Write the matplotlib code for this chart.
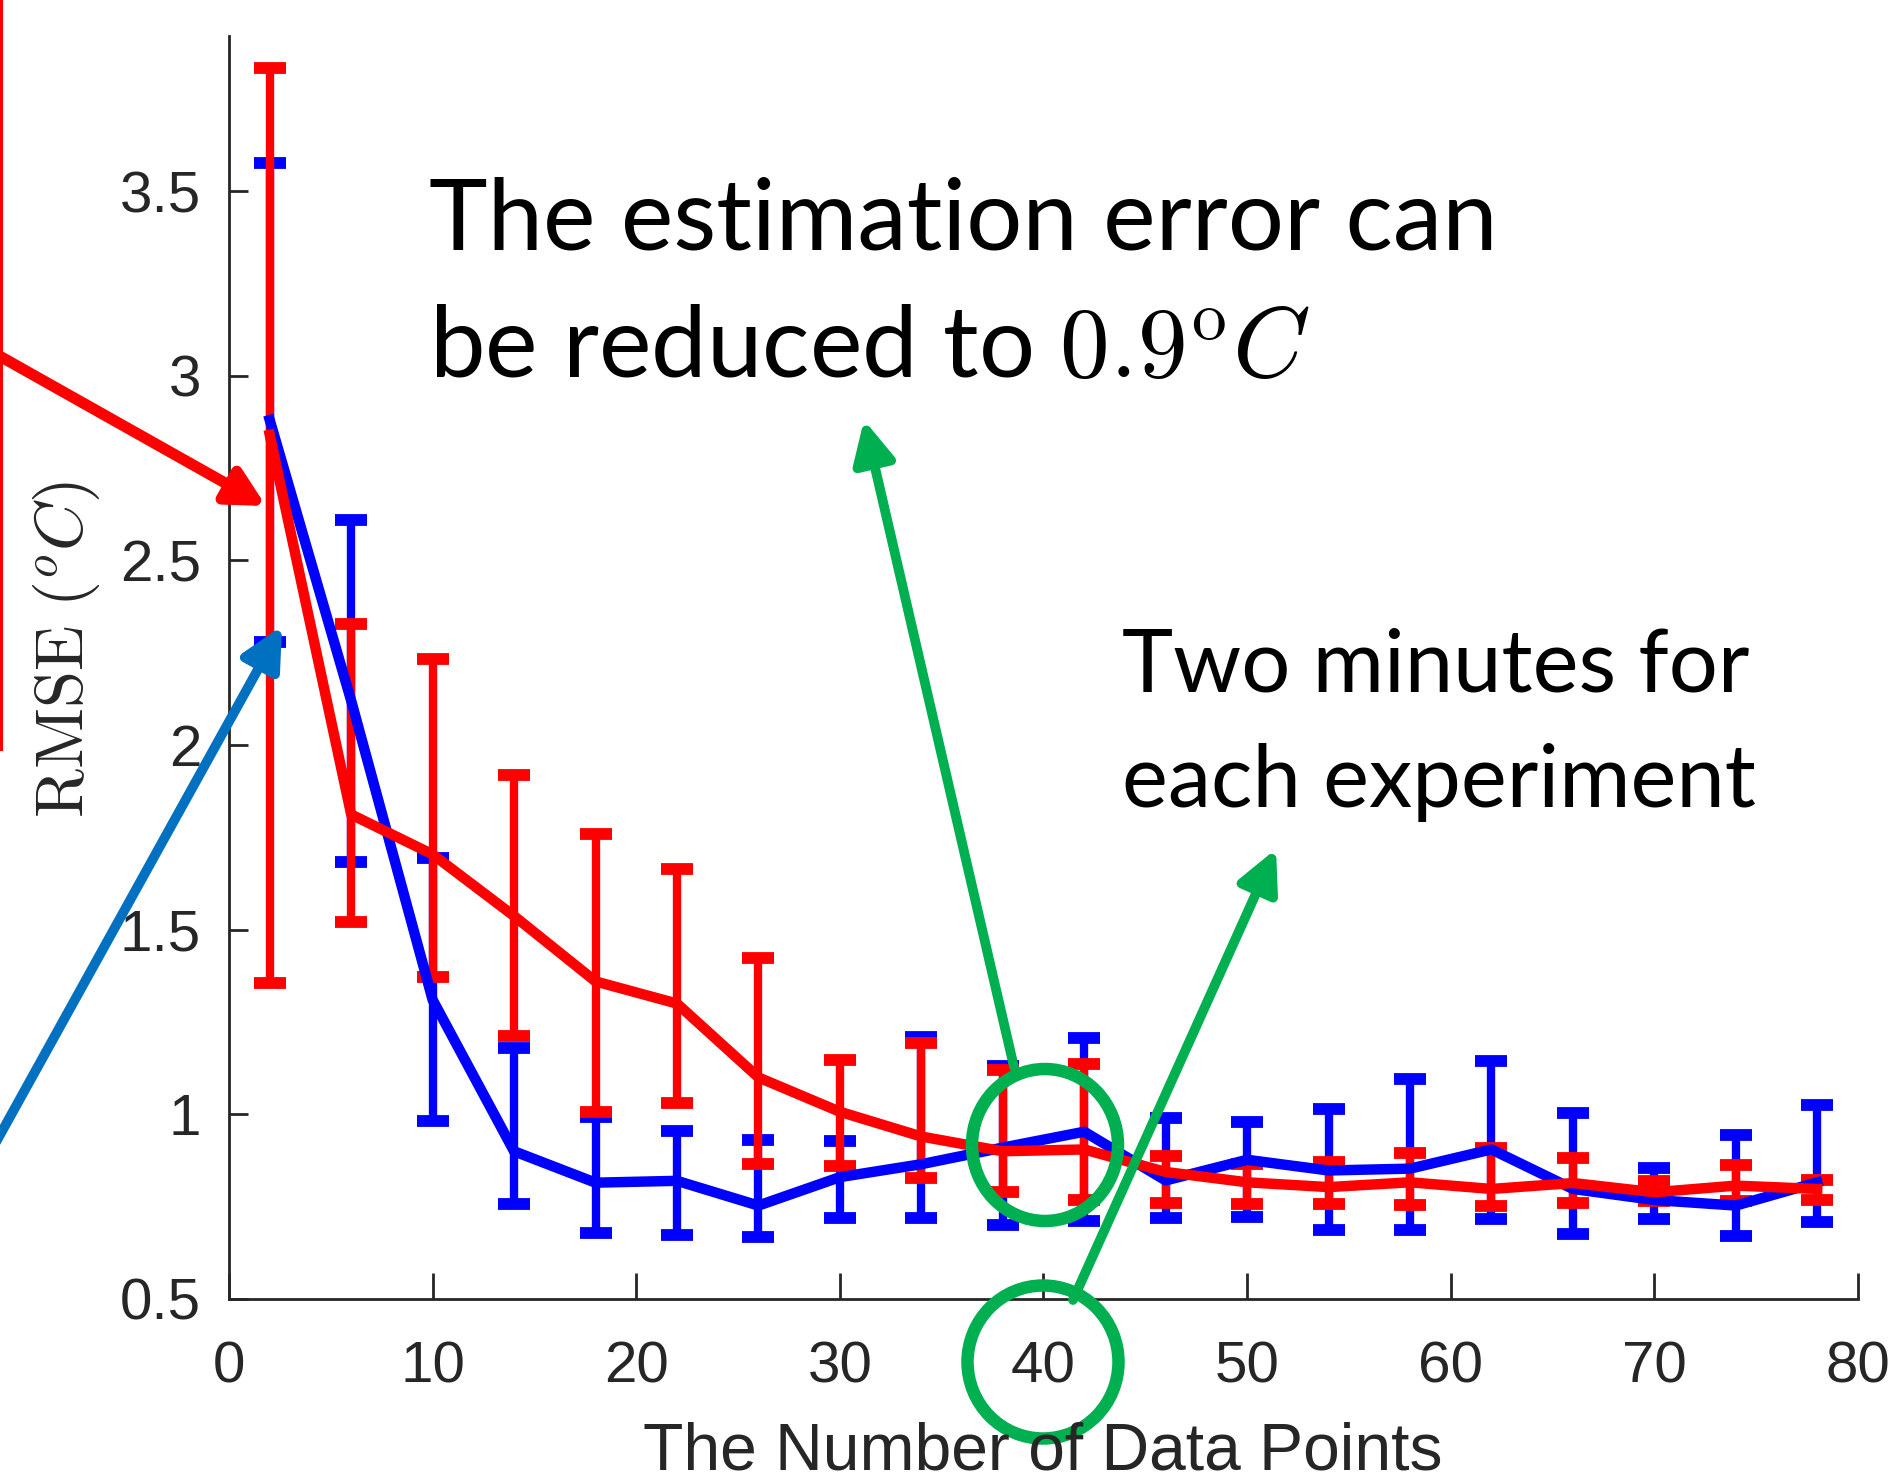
import numpy as np
import matplotlib
matplotlib.use('Agg')
from matplotlib import pyplot as plt
from matplotlib.patches import FancyArrowPatch, Ellipse
from matplotlib.ticker import FormatStrFormatter
from matplotlib.lines import Line2D

# Number of data points used for each estimate
n_points = [2, 6, 10, 14, 18, 22, 26, 30, 34, 38, 42, 46, 50, 54, 58, 62, 66, 70, 74, 78]

# Blue series: mean RMSE with lower / upper error bounds
blue_mean = [2.88, 2.12, 1.31, 0.90, 0.815, 0.82, 0.753, 0.83, 0.865, 0.91,
             0.953, 0.821, 0.877, 0.848, 0.853, 0.905, 0.798, 0.768, 0.753, 0.816]
blue_low = [2.28, 1.683, 0.982, 0.757, 0.678, 0.673, 0.667, 0.719, 0.719, 0.70,
            0.712, 0.719, 0.723, 0.686, 0.686, 0.716, 0.675, 0.716, 0.67, 0.708]
blue_high = [3.576, 2.609, 1.694, 1.18, 0.992, 0.955, 0.93, 0.928, 1.21, 1.13,
             1.207, 0.989, 0.978, 1.014, 1.095, 1.144, 1.005, 0.855, 0.945, 1.025]

# Red series: mean RMSE with lower / upper error bounds
red_mean = [2.84, 1.812, 1.704, 1.537, 1.36, 1.30, 1.10, 1.007, 0.94, 0.90,
            0.905, 0.844, 0.816, 0.803, 0.816, 0.798, 0.814, 0.789, 0.807, 0.798]
red_low = [1.356, 1.52, 1.372, 1.213, 1.006, 1.032, 0.866, 0.859, 0.828, 0.789,
           0.768, 0.76, 0.757, 0.757, 0.755, 0.752, 0.76, 0.765, 0.765, 0.768]
red_high = [3.832, 2.327, 2.232, 1.92, 1.76, 1.665, 1.423, 1.146, 1.192, 1.12,
            1.136, 0.888, 0.866, 0.872, 0.896, 0.91, 0.883, 0.819, 0.864, 0.821]

x_ticks = [0, 10, 20, 30, 40, 50, 60, 70, 80]
y_ticks = [0.5, 1, 1.5, 2, 2.5, 3, 3.5]

note_error = ["The estimation error can", "be reduced to $0.9^{\\mathrm{o}}C$"]
note_time = ["Two minutes for", "each experiment"]

plt.rcParams['font.family'] = ['Liberation Sans', 'DejaVu Sans']
plt.rcParams['mathtext.fontset'] = 'cm'

W, H = 1890, 1482
fig = plt.figure(figsize=(W / 100, H / 100), dpi=100)


def px(x, y):
    # pixel position (from top-left) -> figure fraction
    return (x / W, 1 - y / H)


ax = fig.add_axes([229 / W, (H - 1299) / H, (1858 - 229) / W, (1299 - 36) / H])

# Error bar series (blue first, red on top)
for mean, low, high, col in [(blue_mean, blue_low, blue_high, '#0000FF'),
                             (red_mean, red_low, red_high, '#FF0000')]:
    mean = np.array(mean)
    yerr = [mean - np.array(low), np.array(high) - mean]
    ax.errorbar(n_points, mean, yerr=yerr, color=col, lw=7.5, elinewidth=6,
                capsize=11.5, capthick=8.5, zorder=3)

ax.set_xlim(0, 80)
ax.set_ylim(0.5, 3.92)
ax.set_xticks(x_ticks)
ax.set_yticks(y_ticks)
ax.yaxis.set_major_formatter(FormatStrFormatter('%g'))
for side in ['top', 'right']:
    ax.spines[side].set_visible(False)
for side in ['left', 'bottom']:
    ax.spines[side].set_color('#262626')
    ax.spines[side].set_linewidth(2)
ax.tick_params(axis='both', direction='in', colors='#262626', width=2, labelsize=42)
ax.tick_params(axis='x', length=19, pad=30)
ax.tick_params(axis='y', length=14, pad=20)

# Axis labels
fig.text(*px(1043, 1469), 'The Number of Data Points', ha='center', va='baseline',
         fontsize=47.5, color='#262626')
fig.text(*px(66, 650), r'$\mathrm{RMSE}\ (^oC)$', rotation=90, ha='center', va='center',
         fontsize=48, color='#262626')

# Annotation text, one line at a time
for line, yb in zip(note_error, [249, 377]):
    fig.text(*px(429, yb), line, fontsize=71.5, family=['Lato', 'DejaVu Sans'],
             ha='left', va='baseline')
for line, yb in zip(note_time, [692, 807]):
    fig.text(*px(1122, yb), line, fontsize=62.5, family=['Lato', 'DejaVu Sans'],
             ha='left', va='baseline')

# Red line at the left edge
fig.add_artist(Line2D([1 / W, 1 / W], [1, 1 - 749 / H], color='#FF0000', lw=2.2,
                      transform=fig.transFigure))


def arrow(p0, p1, col, lw, hl, hw):
    a = FancyArrowPatch(px(*p0), px(*p1), transform=fig.transFigure,
                        arrowstyle=f'-|>,head_length={hl},head_width={hw}',
                        color=col, lw=lw, shrinkA=0, shrinkB=0, mutation_scale=1)
    fig.add_artist(a)


arrow((-20, 345), (266, 506), '#FF0000', 8, 22, 11.5)
arrow((-20, 1171), (282, 626), '#0070C0', 7, 25, 12.5)
arrow((1014, 1067), (864, 420), '#00B050', 7, 25, 12.5)
arrow((1073, 1300), (1276, 849), '#00B050', 7, 25, 12.5)

# Green circles
for cx, cy, ew, eh in [(1045, 1145, 146, 152), (1043, 1362, 151, 153)]:
    fig.add_artist(Ellipse(px(cx, cy), ew / W, eh / H, transform=fig.transFigure,
                           fill=False, edgecolor='#00B050', lw=9))

fig.savefig('out.png', dpi=100)
